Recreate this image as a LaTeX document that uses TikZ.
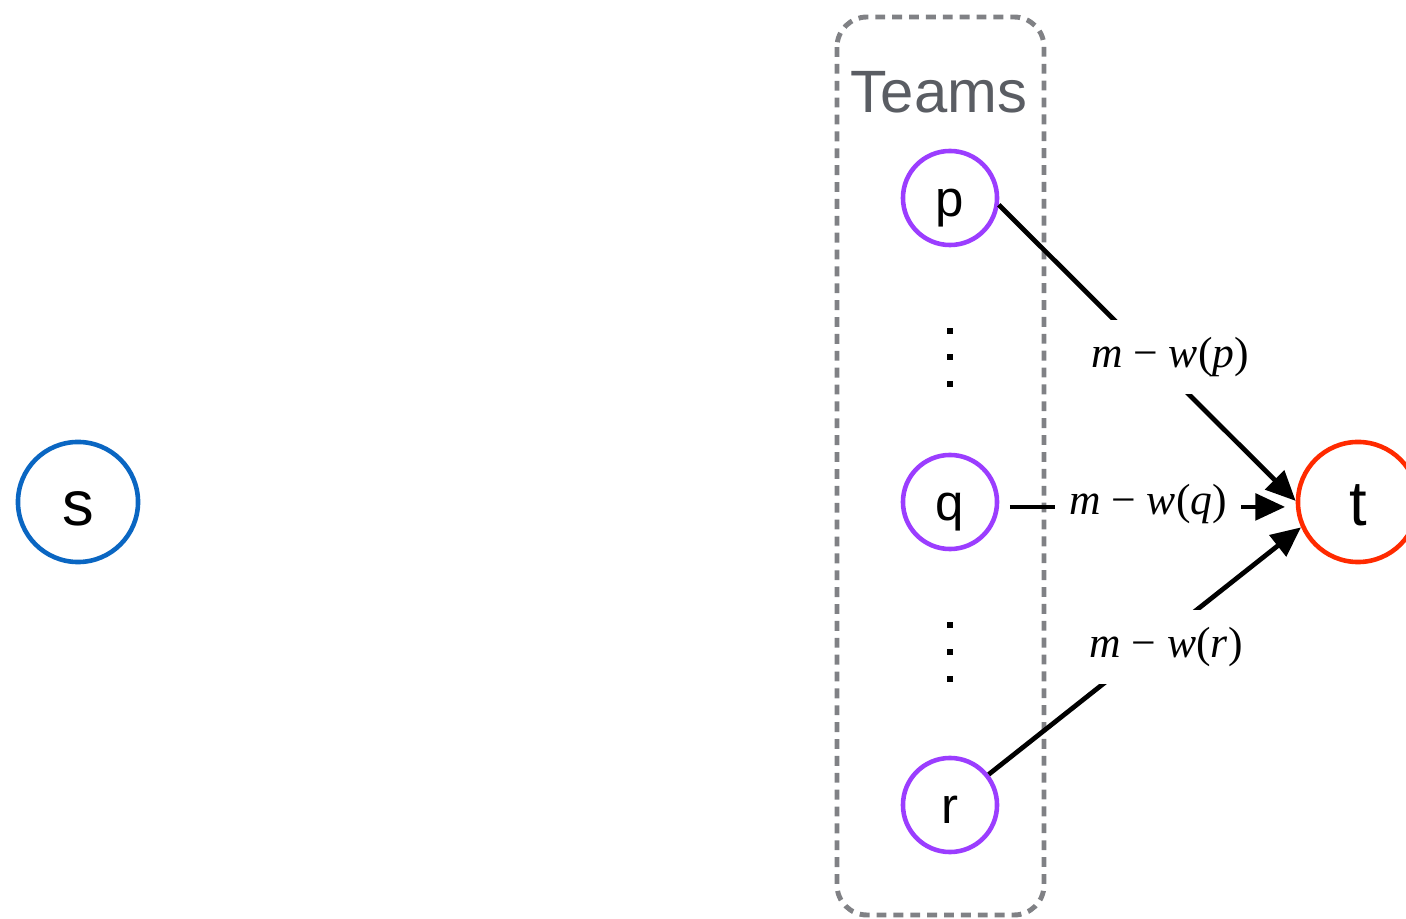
\documentclass[tikz,border=0pt]{standalone}
\usepackage{fontspec}
\setmainfont{Liberation Sans}
\newfontfamily\labelfont{Liberation Serif}
\usetikzlibrary{arrows.meta}
\definecolor{sblue}{HTML}{0A66C2}
\definecolor{tred}{HTML}{FF2A00}
\definecolor{tpurple}{HTML}{9B3DFF}
\definecolor{boxgray}{HTML}{808185}
\definecolor{teamgray}{HTML}{5A5D63}
\tikzset{
  bignode/.style={circle, draw, line width=1.3pt, minimum size=1.2cm, inner sep=0pt,
    text height=13.6pt, text depth=0pt, font=\fontsize{18}{20}\selectfont},
  teamnode/.style={circle, draw=tpurple, line width=1.3pt, minimum size=0.94cm, inner sep=0pt,
    text height=10.8pt, text depth=0pt, font=\fontsize{14.5}{16}\selectfont},
  edge/.style={line width=1.35pt, -{Triangle[length=8.5pt,width=7.5pt]}},
  elabel/.style={fill=white, inner xsep=4pt, inner ysep=5pt, font=\labelfont\fontsize{12.4}{14}\selectfont},
  boxline/.style={draw=boxgray, line width=1.4pt, dash pattern=on 2.8pt off 2pt, rounded corners=0.3cm},
  dotmark/.style={fill=black}
}
\begin{document}
\begin{tikzpicture}[x=0.01cm, y=-0.01cm]
\useasboundingbox (0,0) rectangle (1406,919);

% team container
\draw[boxline] (837,17) rectangle (1044,915);
\node[text=teamgray, font=\fontsize{17}{19}\selectfont] (teams) at (939,92) {Teams};

% source, sink and team vertices
\node[bignode, draw=sblue] (s) at (78,502) {s};
\node[bignode, draw=tred] (t) at (1358,502) {t};
\node[teamnode] (p) at (950,198) {p};
\node[teamnode] (q) at (950,502) {q};
\node[teamnode] (r) at (950,805) {r};

% vertical ellipses between teams
\foreach \y in {331,357,384,625,652,679}
  \fill[dotmark] (947,\y-3) rectangle (953,\y+3);

% capacity edges into the sink
\draw[edge] (p.352) -- (t.179);
\draw[edge, shorten <=3pt, shorten >=3pt] ([yshift=-1.4pt]q.east) -- ([yshift=-1.4pt]t.west);
\draw[edge] (r) -- (t.204);

\node[elabel] (lp) at (1170,357) {\textit{m} − \textit{w}(\textit{p})};
\node[elabel] (lq) at (1148,504) {\textit{m} − \textit{w}(\textit{q})};
\node[elabel] (lr) at (1166,647) {\textit{m} − \textit{w}(\textit{r})};
\end{tikzpicture}
\end{document}
